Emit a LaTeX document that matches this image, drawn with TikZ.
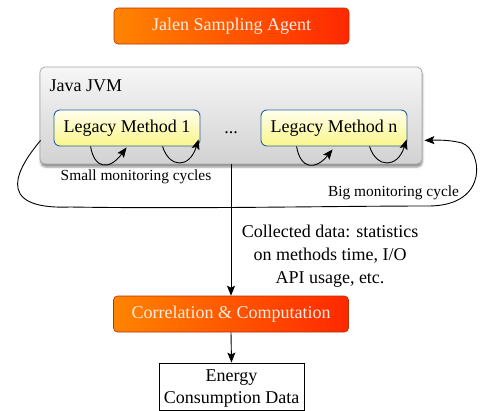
\documentclass[tikz,border=0pt]{standalone}
\usepackage{fontspec}
\setmainfont{Liberation Serif}
\usetikzlibrary{arrows.meta,calc,backgrounds,shadows.blur}
\definecolor{orL}{HTML}{FF8400}
\definecolor{orM}{HTML}{FF4C00}
\definecolor{orR}{HTML}{FF2800}
\definecolor{orB}{HTML}{B83000}
\definecolor{orT}{HTML}{FFEDE2}
\definecolor{glowc}{HTML}{FF9A30}
\definecolor{jvmT}{HTML}{F6F6F6}
\definecolor{jvmB}{HTML}{D2D2D2}
\definecolor{jvmD}{HTML}{A8A8A8}
\definecolor{ylT}{HTML}{FFFFEC}
\definecolor{ylB}{HTML}{FAF58A}
\definecolor{blueB}{HTML}{2A64A0}
\begin{document}
\begin{tikzpicture}[x=1pt,y=-1pt,
  bigtxt/.style={font=\fontsize{18}{22}\selectfont},
  smalltxt/.style={font=\fontsize{15.4}{18}\selectfont},
  orangebox/.style={bigtxt, rounded corners=4pt, left color=orL, middle color=orM, right color=orR,
    draw=orB, line width=0.6pt, text=orT, minimum width=235pt, minimum height=36pt, inner sep=0pt},
  jvmbox/.style={rounded corners=5pt, top color=jvmT, bottom color=jvmB, draw=jvmD,
    line width=0.8pt, minimum width=382pt, minimum height=97pt, inner sep=0pt,
    blur shadow={shadow xshift=0.5pt, shadow yshift=-3pt, shadow blur radius=2pt, shadow opacity=45}},
  legacybox/.style={bigtxt, rounded corners=6pt, top color=ylT, bottom color=ylB, draw=blueB,
    line width=0.9pt, minimum width=146pt, minimum height=36pt, inner sep=0pt},
  energybox/.style={draw=black, line width=0.9pt, fill=white, minimum width=145pt, minimum height=47pt, inner sep=0pt},
  arr/.style={draw=black, line width=0.9pt, -{Stealth[length=10pt,width=8pt,inset=2pt]}},
]
\useasboundingbox (0,0) rectangle (482,410);

% orange boxes
\node[orangebox] (jal) at (231.5,26) {Jalen Sampling Agent};
\node[orangebox] (corr) at (231,314) {Correlation \& Computation};

% glows
\begin{scope}[on background layer]
  \foreach \r/\o in {6/0.06,4.5/0.08,3/0.1,1.5/0.14}{
    \fill[glowc, opacity=\o, rounded corners=4pt+\r pt]
      ($(jal.north west)+(-\r,-\r+2)$) rectangle ($(jal.south east)+(\r,\r+2)$);
    \fill[glowc, opacity=\o, rounded corners=4pt+\r pt]
      ($(corr.north west)+(-\r,-\r+2)$) rectangle ($(corr.south east)+(\r,\r+2)$);
  }
\end{scope}

% JVM
\node[jvmbox] (jvm) at (231,115.5) {};
\node[bigtxt, anchor=base west] (jvmlabel) at (46,91) {Java JVM};
\node[legacybox] (lm1) at (127,128) {Legacy Method 1};
\node[legacybox] (lmn) at (334,128) {Legacy Method n};
\node[bigtxt, anchor=base, inner sep=0pt] (dots) at (231,133.5) {...};

% small monitoring cycles
\draw[arr] ($(lm1.south west)+(37,0)$) .. controls +(4,23) and +(-17,23) .. ($(lm1.south west)+(73,1)$);
\draw[arr] ($(lm1.south west)+(109,0)$) .. controls +(7,22) and +(-9,29) .. ($(lm1.south west)+(145,-7)$);
\draw[arr] ($(lmn.south west)+(36,0)$) .. controls +(4,23) and +(-17,21) .. ($(lmn.south west)+(72,3)$);
\draw[arr] ($(lmn.south west)+(109,0)$) .. controls +(7,22) and +(-9,29) .. ($(lmn.south west)+(146,-7)$);

\node[smalltxt, anchor=base] (smalllbl) at (136,180) {Small monitoring cycles};

% big monitoring cycle
\coordinate (bigstart) at ($(jvm.south west)+(1,-24)$);
\coordinate (bigend) at ($(jvm.south east)+(2,-24)$);
\draw[arr] (bigstart) .. controls (20,165) and (-10,210) .. (70,207)
  .. controls (200,209) and (330,206) .. (430,206)
  .. controls (490,205) and (482,150) .. (462,143)
  .. controls (450,140) and (440,140) .. (bigend);
\node[smalltxt, anchor=base] (biglbl) at (393.5,196) {Big monitoring cycle};

% data flow
\draw[arr] (jvm.south) -- (corr.north);
\node[bigtxt, align=center, inner sep=0pt, font=\fontsize{18}{23}\selectfont] (collected) at (330,255.7)
  {Collected data: statistics\\on methods time, I/O\\API usage, etc.};

\node[energybox] (en) at (231.5,386.5) {};
\node[bigtxt, align=center, inner sep=0pt] (entext) at (231.5,388.5) {Energy\\Consumption Data};
\draw[arr] (corr.south) -- (en.north);
\end{tikzpicture}
\end{document}
